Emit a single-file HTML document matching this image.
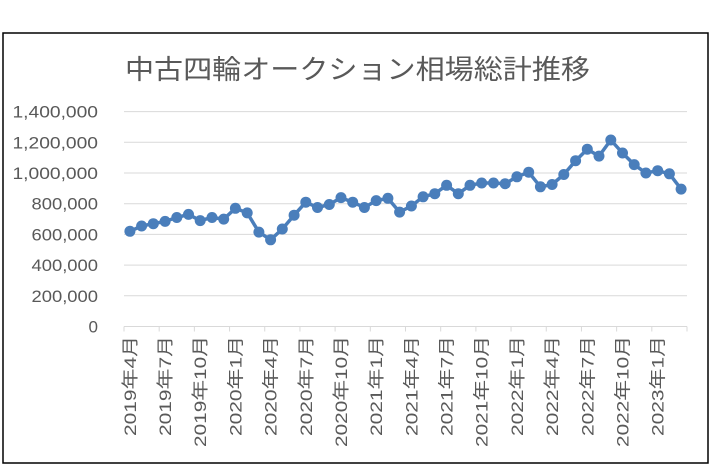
<!DOCTYPE html>
<html><head><meta charset="utf-8"><style>
html,body{margin:0;padding:0;background:#fff;width:710px;height:474px;overflow:hidden}
svg{display:block}
text{font-family:"Liberation Sans","Noto Sans CJK JP",sans-serif;fill:#595959}
</style></head><body>
<svg id="s" width="710" height="474" xmlns="http://www.w3.org/2000/svg">
<rect x="0" y="0" width="710" height="474" fill="#fff"/>
<rect x="3" y="33" width="705" height="430" fill="#fff" stroke="#000" stroke-width="1.5"/>
<text x="125" y="79" font-size="27" textLength="465" lengthAdjust="spacingAndGlyphs" style="fill:#595959;font-family:'Noto Sans CJK JP',sans-serif">中古四輪オークション相場総計推移</text>
<g id="g"></g>
</svg>
<script>
var g=document.getElementById('g'),h='';
var x0=124,x1=687,y0=326.5,py=30.7/200000;
var lab=['1,400,000','1,200,000','1,000,000','800,000','600,000','400,000','200,000','0'];
for(var i=0;i<=7;i++){var v=(7-i)*200000,y=y0-v*py;
 if(v>0)h+='<line x1="'+x0+'" x2="'+x1+'" y1="'+y+'" y2="'+y+'" stroke="#d9d9d9" stroke-width="1"/>';
 var L=lab[i].length*9.5;
 h+='<text x="'+(98-L)+'" y="'+(y+6)+'" font-size="17" textLength="'+L+'" lengthAdjust="spacingAndGlyphs">'+lab[i]+'</text>';}
h+='<line x1="'+x0+'" x2="'+x1+'" y1="'+y0+'" y2="'+y0+'" stroke="#d9d9d9" stroke-width="1"/>';
var n=48,w=(x1-x0)/n;
for(var i=0;i<=n;i+=3){var x=x0+i*w;h+='<line x1="'+x+'" x2="'+x+'" y1="'+y0+'" y2="'+(y0+5)+'" stroke="#d9d9d9"/>';}
var mo=[4,7,10,1],yr=2019;
for(var k=0;k<16;k++){var m=mo[k%4];if(m==1)yr++;var x=x0+k*3*w+w/2;
 var s=yr+'年'+m+'月',L=s.length==7?100:111;
 h+='<text transform="translate('+(x+6)+',336) rotate(-90)" font-size="17" text-anchor="end" textLength="'+L+'" lengthAdjust="spacingAndGlyphs">'+s+'</text>';}
var d=[620,655,670,685,710,730,690,710,700,770,740,615,565,635,725,810,775,795,840,810,775,820,835,745,785,845,865,920,865,920,935,935,930,975,1005,910,925,990,1080,1155,1110,1215,1130,1055,1000,1015,995,895];
var pts=d.map(function(v,i){return (x0+(i+0.5)*w).toFixed(1)+','+(y0-v*1000*py).toFixed(1)});
h+='<polyline points="'+pts.join(' ')+'" fill="none" stroke="#4a7ebb" stroke-width="3.5" stroke-linejoin="round"/>';
pts.forEach(function(p){var a=p.split(',');h+='<circle cx="'+a[0]+'" cy="'+a[1]+'" r="5.5" fill="#4a7ebb"/>';});
g.innerHTML=h;
</script>
</body></html>
